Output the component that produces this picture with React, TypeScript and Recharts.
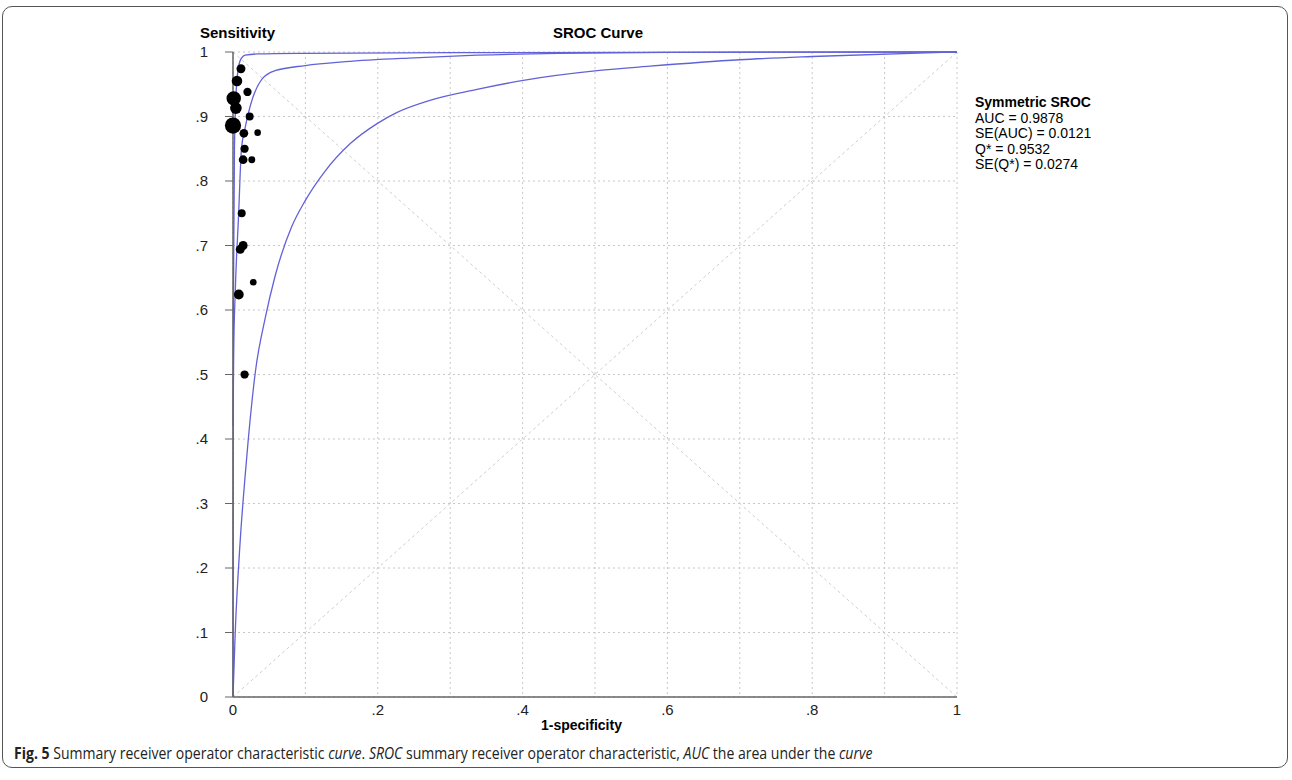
import React from "react";
import { ComposedChart, Line, Scatter, XAxis, YAxis, ZAxis, CartesianGrid } from "recharts";

// study points: x = 1-specificity, y = sensitivity, z = weight
const studies = [
    { x: 0.011, y: 0.974, z: 20 },
    { x: 0.0055, y: 0.955, z: 28 },
    { x: 0.02, y: 0.938, z: 17 },
    { x: 0.001, y: 0.928, z: 52 },
    { x: 0.004, y: 0.913, z: 34 },
    { x: 0.023, y: 0.9, z: 16 },
    { x: 0.0, y: 0.886, z: 66 },
    { x: 0.015, y: 0.874, z: 19 },
    { x: 0.034, y: 0.875, z: 11 },
    { x: 0.016, y: 0.85, z: 17 },
    { x: 0.014, y: 0.833, z: 19 },
    { x: 0.026, y: 0.833, z: 12 },
    { x: 0.012, y: 0.75, z: 16 },
    { x: 0.014, y: 0.7, z: 20 },
    { x: 0.01, y: 0.694, z: 20 },
    { x: 0.028, y: 0.643, z: 11 },
    { x: 0.008, y: 0.624, z: 24 },
    { x: 0.016, y: 0.5, z: 17 },
];

// curves
const upperCurve = [
    { x: 0, y: 0 },
    { x: 0.0005, y: 0.6 },
    { x: 0.002, y: 0.85 },
    { x: 0.005, y: 0.95 },
    { x: 0.01, y: 0.987 },
    { x: 0.017, y: 0.995 },
    { x: 0.035, y: 0.997 },
    { x: 0.1, y: 0.998 },
    { x: 0.3, y: 0.999 },
    { x: 1, y: 1 },
];

const sroc = [
    { x: 0, y: 0.42 },
    { x: 0.001, y: 0.537 },
    { x: 0.003, y: 0.625 },
    { x: 0.0078, y: 0.749 },
    { x: 0.0115, y: 0.847 },
    { x: 0.017, y: 0.884 },
    { x: 0.024, y: 0.917 },
    { x: 0.04, y: 0.958 },
    { x: 0.058, y: 0.971 },
    { x: 0.1, y: 0.979 },
    { x: 0.155, y: 0.985 },
    { x: 0.25, y: 0.991 },
    { x: 0.337, y: 0.995 },
    { x: 0.45, y: 0.998 },
    { x: 0.6, y: 0.9995 },
    { x: 1, y: 1 },
];

const lowerCurve = [
    { x: 0, y: 0 },
    { x: 0.003, y: 0.098 },
    { x: 0.01, y: 0.243 },
    { x: 0.017, y: 0.346 },
    { x: 0.021, y: 0.398 },
    { x: 0.031, y: 0.505 },
    { x: 0.045, y: 0.59 },
    { x: 0.058, y: 0.652 },
    { x: 0.081, y: 0.729 },
    { x: 0.1, y: 0.77 },
    { x: 0.127, y: 0.815 },
    { x: 0.162, y: 0.858 },
    { x: 0.199, y: 0.889 },
    { x: 0.226, y: 0.906 },
    { x: 0.272, y: 0.925 },
    { x: 0.337, y: 0.942 },
    { x: 0.401, y: 0.956 },
    { x: 0.503, y: 0.971 },
    { x: 0.576, y: 0.978 },
    { x: 0.7, y: 0.988 },
    { x: 0.8, y: 0.993 },
    { x: 1, y: 1 },
];

const diagonalUp = [{ x: 0, y: 0 }, { x: 1, y: 1 }];
const diagonalDown = [{ x: 0, y: 1 }, { x: 1, y: 0 }];

const gridTicks = [0, 0.1, 0.2, 0.3, 0.4, 0.5, 0.6, 0.7, 0.8, 0.9, 1];
const xLabelTicks = [0, 0.2, 0.4, 0.6, 0.8, 1];

const statLines = ["AUC = 0.9878", "SE(AUC) = 0.0121", "Q* = 0.9532", "SE(Q*) = 0.0274"];

const fmt = (v) => {
    const r = Math.round(v * 10) / 10;
    if (r === 0) return "0";
    if (r === 1) return "1";
    return r.toFixed(1).replace(/^0/, "");
};

const fmtX = (v) => {
    const r = Math.round(v * 10);
    return xLabelTicks.some(t => Math.round(t * 10) === r) ? fmt(v) : "";
};

const curveColor = "#6262d8";
const axisColor = "#666";
const labelFont = "'Liberation Sans', Arial, sans-serif";

export default function App() {
    return (
        <div style={{ position: "fixed", left: 0, top: 0, width: 1292, height: 780, background: "#fff", fontFamily: labelFont }}>
            <div style={{ position: "absolute", left: 2, top: 6, width: 1286, height: 762, border: "1px solid #555", borderRadius: 10, boxSizing: "border-box" }} />

            <ComposedChart
                width={1292}
                height={780}
                margin={{ top: 52, right: 335, bottom: 53, left: 193 }}
                style={{ position: "absolute", left: 0, top: 0 }}
            >
                <CartesianGrid stroke="#c8c8c8" strokeDasharray="2 3" />
                <XAxis
                    type="number"
                    dataKey="x"
                    domain={[0, 1]}
                    ticks={gridTicks}
                    tickFormatter={fmtX}
                    tickLine={false}
                    tickMargin={1}
                    height={30}
                    interval={0}
                    axisLine={{ stroke: axisColor, strokeWidth: 1.5 }}
                    tick={{ fill: "#222", fontSize: 15, fontFamily: labelFont }}
                />
                <XAxis xAxisId="top" orientation="top" type="number" domain={[0, 1]} height={0} tick={false} tickLine={false} axisLine={{ stroke: axisColor, strokeWidth: 1.5 }} />
                <YAxis
                    type="number"
                    dataKey="y"
                    domain={[0, 1]}
                    ticks={gridTicks}
                    tickFormatter={fmt}
                    tickSize={8}
                    tickMargin={17}
                    width={40}
                    interval={0}
                    tickLine={{ stroke: axisColor }}
                    axisLine={{ stroke: axisColor, strokeWidth: 1.5 }}
                    tick={{ fill: "#222", fontSize: 15, fontFamily: labelFont }}
                />
                <YAxis yAxisId="right" orientation="right" type="number" domain={[0, 1]} width={0} tick={false} tickLine={false} axisLine={{ stroke: axisColor, strokeWidth: 1.5 }} />
                <ZAxis type="number" dataKey="z" domain={[0, 70]} range={[0, 70 * Math.PI]} />

                <Line data={diagonalUp} dataKey="y" type="linear" stroke="#cfcfcf" strokeDasharray="3 3" dot={false} isAnimationActive={false} />
                <Line data={diagonalDown} dataKey="y" type="linear" stroke="#cfcfcf" strokeDasharray="3 3" dot={false} isAnimationActive={false} />

                <Line data={upperCurve} dataKey="y" type="monotone" stroke={curveColor} strokeWidth={1.3} dot={false} isAnimationActive={false} />
                <Line data={sroc} dataKey="y" type="monotone" stroke={curveColor} strokeWidth={1.3} dot={false} isAnimationActive={false} />
                <Line data={lowerCurve} dataKey="y" type="monotone" stroke={curveColor} strokeWidth={1.3} dot={false} isAnimationActive={false} />

                <Scatter data={studies} dataKey="y" fill="#000" isAnimationActive={false} />
            </ComposedChart>

            <div style={{ position: "absolute", left: 200, top: 24, fontSize: 15, fontWeight: "bold" }}>Sensitivity</div>
            <div style={{ position: "absolute", left: 553, top: 24, fontSize: 15, fontWeight: "bold" }}>SROC Curve</div>
            <div style={{ position: "absolute", left: 541, top: 717, fontSize: 14, fontWeight: "bold" }}>1-specificity</div>

            <div style={{ position: "absolute", left: 975, top: 95, fontSize: 14, lineHeight: "15.5px" }}>
                <div style={{ fontWeight: "bold" }}>Symmetric SROC</div>
                {statLines.map(s => <div key={s}>{s}</div>)}
            </div>

            <div style={{ position: "absolute", left: 14, top: 742, fontSize: 16, fontFamily: "'Open Sans', sans-serif", color: "#222", whiteSpace: "nowrap", transform: "scaleX(0.877)", transformOrigin: "left top" }}>
                <b>Fig. 5</b> Summary receiver operator characteristic <i>curve</i>. <i>SROC</i> summary receiver operator characteristic, <i>AUC</i> the area under the <i>curve</i>
            </div>
        </div>
    );
}
